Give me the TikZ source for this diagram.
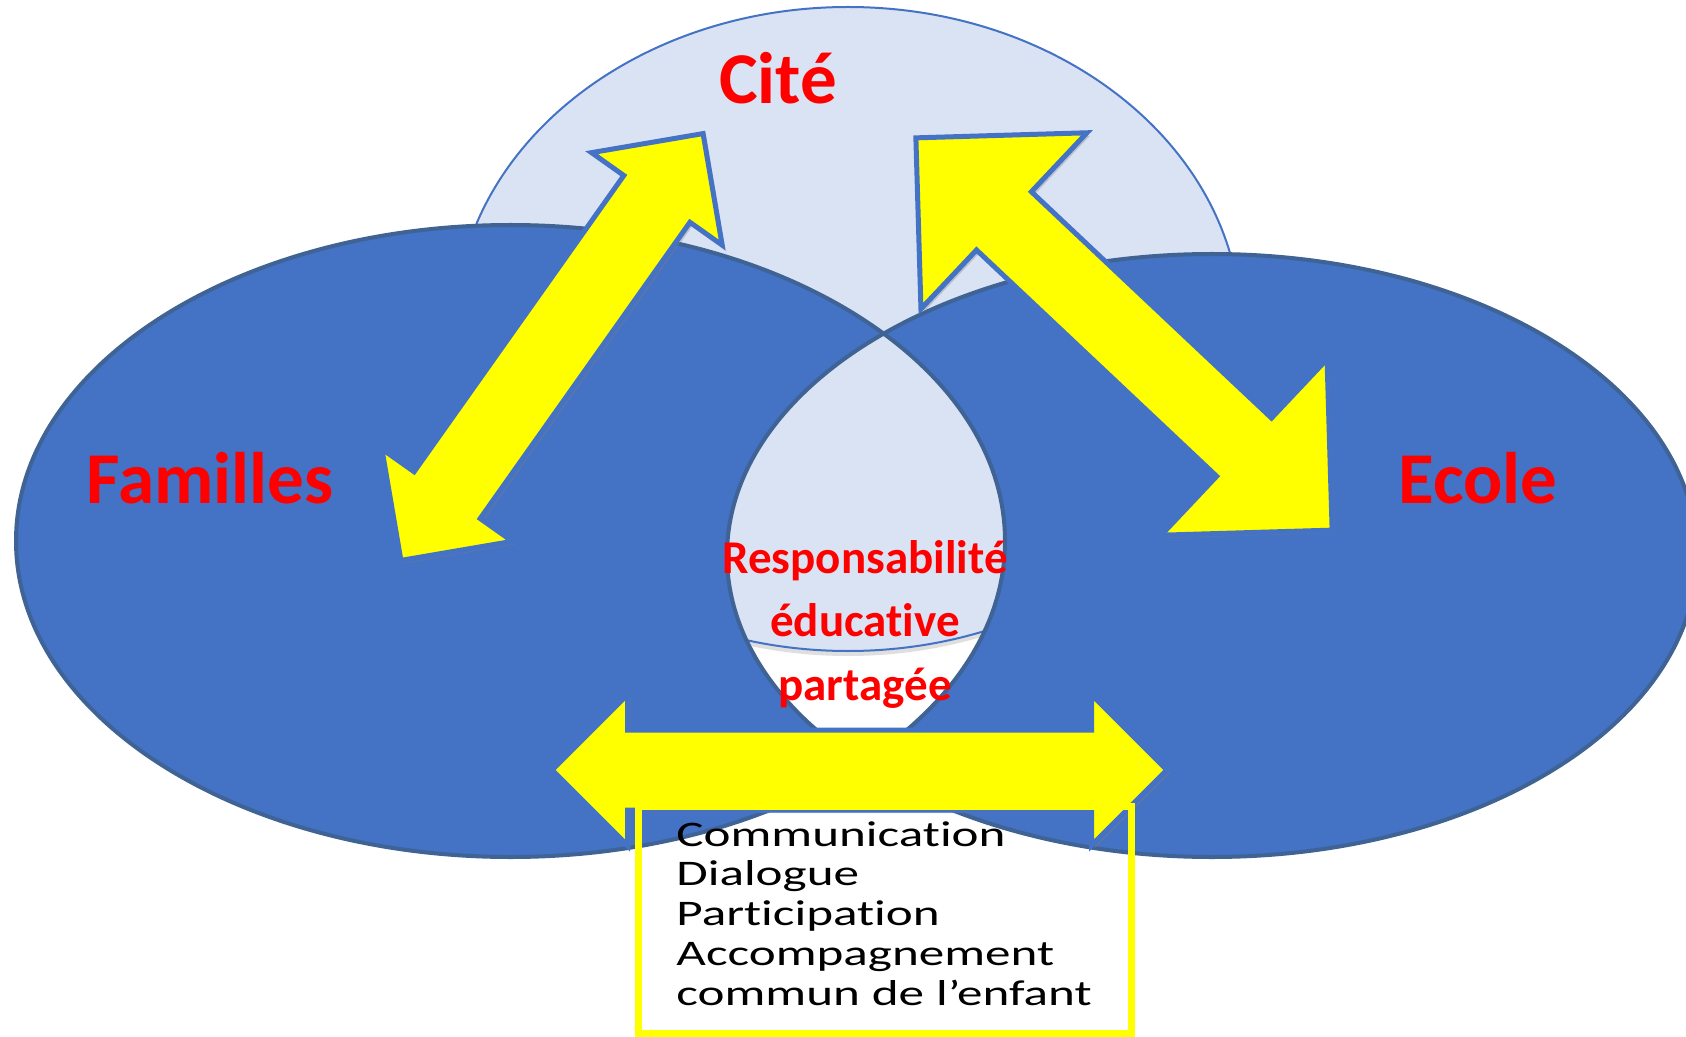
\documentclass[tikz,border=0pt]{standalone}
\usepackage{fontspec}
\setmainfont{Carlito}[RawFeature={-liga;-calt;-dlig}]
\newfontfamily\wideCarlito{Carlito}[FakeStretch=1.42, RawFeature={-liga;-calt;-dlig}]
\usetikzlibrary{shapes.arrows,shadows}
\definecolor{ellfill}{HTML}{4472C4}
\definecolor{ellline}{HTML}{3E6394}
\definecolor{citefill}{HTML}{DAE3F3}
\definecolor{arrline}{HTML}{4472C4}
\definecolor{arrfill}{RGB}{255,255,0}
\definecolor{labred}{RGB}{255,0,0}

\begin{document}
\begin{tikzpicture}[x=0.5pt,y=0.5pt,yscale=-1,xscale=1,
    ellborder/.style={draw=ellline, line width=2pt},
    dblarrow/.style={double arrow, draw=arrline, fill=arrfill, line width=2.5pt, inner xsep=0pt,
        drop shadow={shadow xshift=1.5pt, shadow yshift=-1.5pt, opacity=.35}},
    biglabel/.style={text=labred, font=\fontsize{36.5}{44}\selectfont\bfseries, anchor=base, inner sep=0pt}]
    \fill[white] (0,0) rectangle (1686,1037);
    \useasboundingbox (0,0) rectangle (1686,1037);
    \draw[fill=citefill, draw=arrline, line width=1pt, drop shadow={shadow xshift=0pt, shadow yshift=-2.5pt, opacity=.25}] (848,329) ellipse [x radius=393, y radius=322];
    \fill[ellfill, even odd rule] (510.5,541) ellipse [x radius=494.5, y radius=316] (1212,555.5) ellipse [x radius=485, y radius=301.5];
    \draw[ellborder] (510.5,541) ellipse [x radius=494.5, y radius=316];
    \draw[ellborder] (1212,555.5) ellipse [x radius=485, y radius=301.5];
    \node[dblarrow, rotate=54.7, minimum height=261.5pt, inner ysep=19pt, double arrow head extend=19.75pt] (famcite) at (552,347) {};
    \node[dblarrow, rotate=-43.3, minimum height=286pt, inner ysep=18.75pt, double arrow head extend=40.5pt] (citeecole) at (1124,334) {};
    \node[dblarrow, minimum height=307.5pt, inner ysep=18.75pt, double arrow head extend=17.75pt] (famecole) at (859.5,770) {};
    \node[draw=arrfill, line width=3.5pt, minimum width=246.5pt, minimum height=113.5pt, inner sep=0pt] (listbox) at (884.5,919.5) {};
    \node[biglabel] (cite) at (778,104) {Cité};
    \node[biglabel] (familles) at (210,503) {Familles};
    \node[biglabel] (ecole) at (1478,503) {Ecole};
    \node[text=labred, font=\fontsize{23.5}{31.75}\selectfont\bfseries, text width=200pt, align=center, anchor=base, inner sep=0pt] (resp) at (865,573) {Responsabilité\\éducative\\partagée};
    \node[font=\wideCarlito\fontsize{18}{19.9}\selectfont, text width=240pt, align=left, anchor=base west, inner sep=0pt] (listtxt) at (676,846) {Communication\\Dialogue\\Participation\\Accompagnement\\commun de l’enfant};
\end{tikzpicture}
\end{document}
